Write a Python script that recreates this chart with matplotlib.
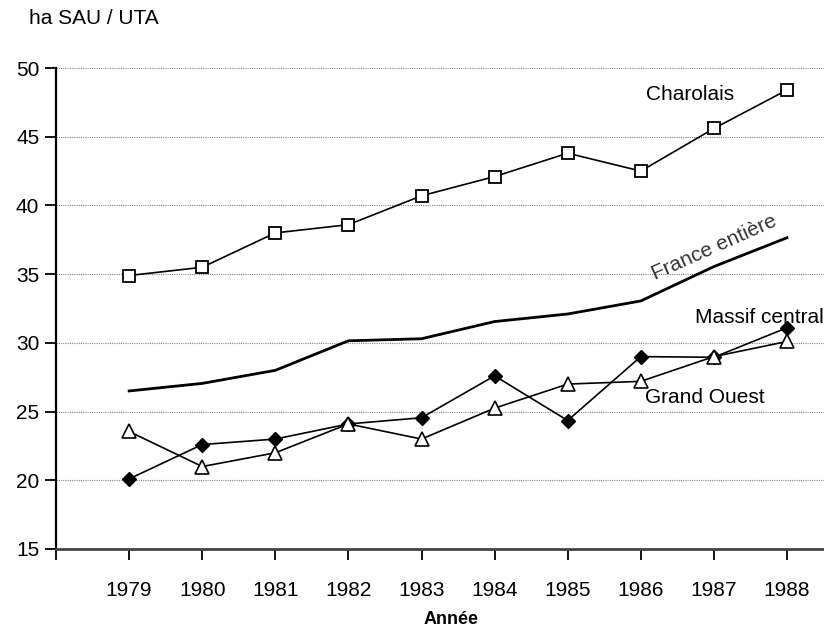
import matplotlib.pyplot as plt
from matplotlib.ticker import FixedLocator

plt.rcParams['font.family'] = ['Liberation Sans', 'DejaVu Sans']

# data
years = [1979, 1980, 1981, 1982, 1983, 1984, 1985, 1986, 1987, 1988]
charolais = [34.9, 35.5, 38.0, 38.6, 40.7, 42.1, 43.8, 42.5, 45.6, 48.4]
france = [26.5, 27.05, 28.0, 30.15, 30.3, 31.55, 32.1, 33.05, 35.55, 37.65]
massif = [20.1, 22.6, 23.0, 24.1, 24.55, 27.6, 24.35, 29.0, 28.95, 31.1]
ouest = [23.55, 21.0, 22.0, 24.1, 23.0, 25.25, 27.0, 27.2, 29.0, 30.1]
yticks = [15, 20, 25, 30, 35, 40, 45, 50]

fig = plt.figure(figsize=(8.24, 6.27), dpi=100)
ax = fig.add_axes([56 / 824, 1 - 549 / 627, 1 - 56 / 824, (549 - 68) / 627])

for v in yticks[1:]:
    ax.axhline(v, color='#888888', lw=0.8, ls=(0, (1, 1)), zorder=0)

ax.plot(years, charolais, color='black', lw=1.2, marker='s', ms=9,
        mfc='white', mec='black', mew=1.3, zorder=3)
ax.plot(years, france, color='black', lw=2.0, zorder=2)
ax.plot(years, massif, color='black', lw=1.2, marker='D', ms=7.5,
        mfc='black', mec='black', zorder=3)
ax.plot(years, ouest, color='black', lw=1.2, marker='^', ms=10,
        mfc='white', mec='black', mew=1.2, zorder=3)

ax.set_xlim(1978, 1978 + (824 - 56) / 73.1)
ax.set_ylim(15, 50)

ax.spines['top'].set_visible(False)
ax.spines['right'].set_visible(False)
ax.spines['left'].set_linewidth(1.6)
ax.spines['bottom'].set_linewidth(2.0)
ax.spines['bottom'].set_color('#444444')

ax.xaxis.set_major_locator(FixedLocator([1978] + years))
ax.set_xticklabels([''] + [str(y) for y in years])
ax.set_yticks(yticks)
ax.tick_params(axis='x', direction='out', length=8, width=1.3, pad=15,
               labelsize=15)
ax.tick_params(axis='y', direction='out', length=8, width=1.3, pad=4,
               labelsize=15)

xl = ax.set_xlabel('Année', fontsize=13, fontweight='bold')
xl.set_va('center')
ax.xaxis.set_label_coords((451 - 56) / 768, -(619 - 549) / 481)

fig.text(29 / 824, 1 - 18 / 627, 'ha SAU / UTA', fontsize=15, va='center')

ax.text(1986.68, 48.1, 'Charolais', fontsize=15, ha='center', va='center')
ax.text(1987.0, 36.9, 'France entière', fontsize=15, ha='center',
        va='center', rotation=24, color='#333333', fontweight='light')
ax.text(1988.5, 31.85, 'Massif central', fontsize=15, ha='right',
        va='center')
ax.text(1986.06, 26.0, 'Grand Ouest', fontsize=15, ha='left', va='center')

fig.savefig('out.png', dpi=100)
